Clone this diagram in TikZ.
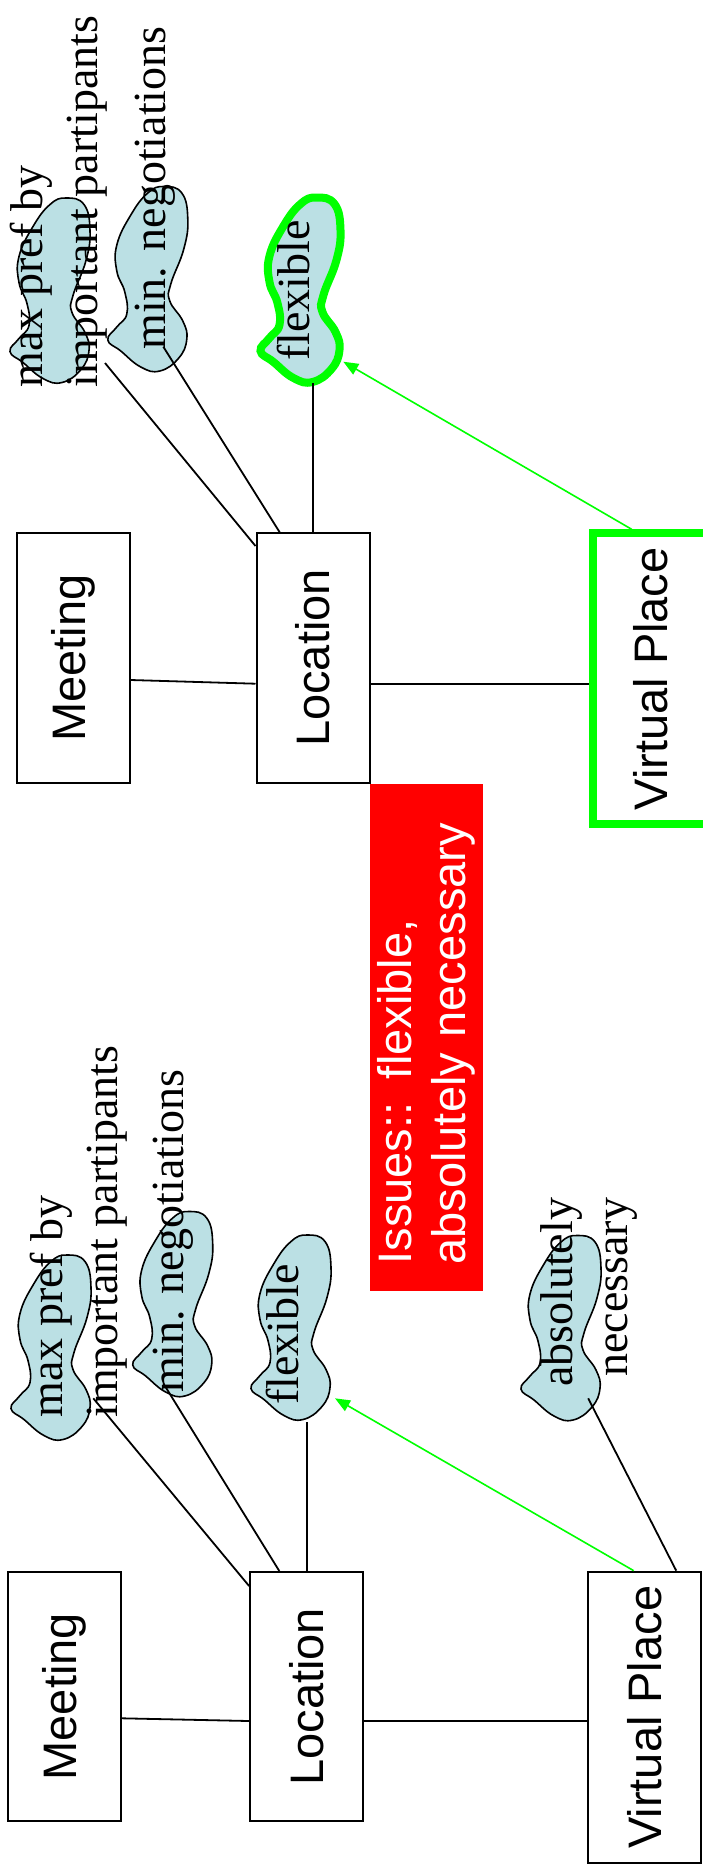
\documentclass[tikz,border=0pt]{standalone}
\usepackage{fontspec}
\setmainfont{Liberation Serif}
\setsansfont{Liberation Sans}
\usetikzlibrary{arrows.meta}
\definecolor{blobblue}{RGB}{187,224,228}
\definecolor{vgreen}{RGB}{0,255,0}
\definecolor{vred}{RGB}{255,0,0}
\tikzset{
  blob/.pic={
    \path[pic actions] plot[smooth cycle,tension=0.75] coordinates {
      (17,92.5) (35,86) (41,60) (37,30) (24,-5) (23,-22) (36,-42) (40,-60)
      (32,-79) (13,-92) (-6,-88) (-26,-72) (-39,-61) (-30,-48) (-20,-35)
      (-22,-13) (-30,8) (-30,34) (-16,64) (1,86)};
  }
}
\begin{document}
\begin{tikzpicture}[x=0.5pt,y=0.5pt,
    entbox/.style={draw,line width=1pt,rotate=90,minimum width=124.7pt,minimum height=56.6pt,inner sep=0pt,font=\sffamily\fontsize{23.5}{27}\selectfont},
    blobshape/.style={fill=blobblue,draw,line width=0.8pt},
    blobtext/.style={rotate=90,inner sep=0pt,font=\fontsize{23}{27.5}\selectfont},
    link/.style={line width=0.9pt},
    pick/.style={draw=vgreen,line width=0.8pt,-{Triangle[length=7.5pt,width=6pt]}}]
\useasboundingbox (0,0) rectangle (702,-1870);

% upper
\node[entbox] (meet1) at (73.2,-658) {Meeting};
\node[entbox] (loc1) at (313.1,-658) {Location};
\node[entbox,draw=vgreen,line width=4pt,minimum width=145.5pt,minimum height=56.85pt] (vp1) at (650.2,-678.8) {Virtual Place};
\node[fill=vred,rotate=90,minimum width=253.5pt,minimum height=56.5pt,text width=227.5pt,inner xsep=13pt,inner ysep=0pt,align=left,text=white,font=\sffamily\fontsize{23.5}{27}\selectfont] (issues) at (426.5,-1037) {Issues:: flexible,\\absolutely necessary};

\pic[blobshape] at (49,-290.5) {blob};
\pic[blobshape] at (146.8,-279) {blob};
\pic[blobshape,draw=vgreen,line width=4pt] at (299.5,-290) {blob};
\node[blobtext,anchor=west,align=left] (maxpref1) at (58.5,-388) {max pref by\\important partipants};
\node[blobtext,anchor=base west] (minneg1) at (165,-350) {min. negotiations};
\node[blobtext,anchor=base west] (flex1) at (309,-361) {flexible};

\coordinate (maxpref1end) at (105,-363);
\coordinate (minneg1end) at (163.3,-346.7);
\coordinate (flex1end) at (313.1,-383);
\coordinate (flex1tip) at (343.3,-361.7);

\draw[link] ([yshift=-11pt]meet1.south) -- ([yshift=-12.85pt]loc1.north);
\draw[link] ([yshift=-12.85pt]loc1.south) -- ([yshift=-12.85pt]loc1.south -| vp1.north);
\draw[link] ([yshift=-6.85pt]loc1.north east) -- (maxpref1end);
\draw[link] ([xshift=12.1pt]loc1.north east) -- (minneg1end);
\draw[link] (loc1.east) -- (flex1end);
\draw[pick] ([xshift=-9.25pt]vp1.east) -- (flex1tip);

% lower
\node[entbox] (meet2) at (64.6,-1696.7) {Meeting};
\node[entbox] (loc2) at (306.7,-1696.7) {Location};
\node[entbox,minimum width=145.5pt] (vp2) at (644.25,-1717.2) {Virtual Place};

\pic[blobshape] at (50,-1347.5) {blob};
\pic[blobshape] at (171.7,-1304) {blob};
\pic[blobshape] at (290,-1327.5) {blob};
\pic[blobshape] at (560,-1328) {blob};
\node[blobtext,anchor=west,align=left] (maxpref2) at (78.5,-1418) {max pref by\\important partipants};
\node[blobtext,anchor=base west] (minneg2) at (183.3,-1393.3) {min. negotiations};
\node[blobtext,anchor=base west] (flex2) at (298.3,-1405) {flexible};
\node[blobtext,anchor=east,align=right] (absnec2) at (589.3,-1197.5) {absolutely\\necessary};

\coordinate (maxpref2end) at (93.3,-1398.3);
\coordinate (minneg2end) at (163.3,-1383.3);
\coordinate (flex2end) at (306.7,-1421.7);
\coordinate (flex2tip) at (335,-1398.3);
\coordinate (absnec2end) at (588.2,-1398.3);

\draw[link] ([yshift=-10.8pt]meet2.south) -- ([yshift=-12.15pt]loc2.north);
\draw[link] ([yshift=-12.15pt]loc2.south) -- ([yshift=-12.15pt]loc2.south -| vp2.north);
\draw[link] ([yshift=-7.5pt]loc2.north east) -- (maxpref2end);
\draw[link] ([xshift=15.1pt]loc2.north east) -- (minneg2end);
\draw[link] (loc2.east) -- (flex2end);
\draw[pick] ([xshift=-5.25pt]vp2.east) -- (flex2tip);
\draw[link] ([xshift=16pt]vp2.east) -- (absnec2end);
\end{tikzpicture}
\end{document}
